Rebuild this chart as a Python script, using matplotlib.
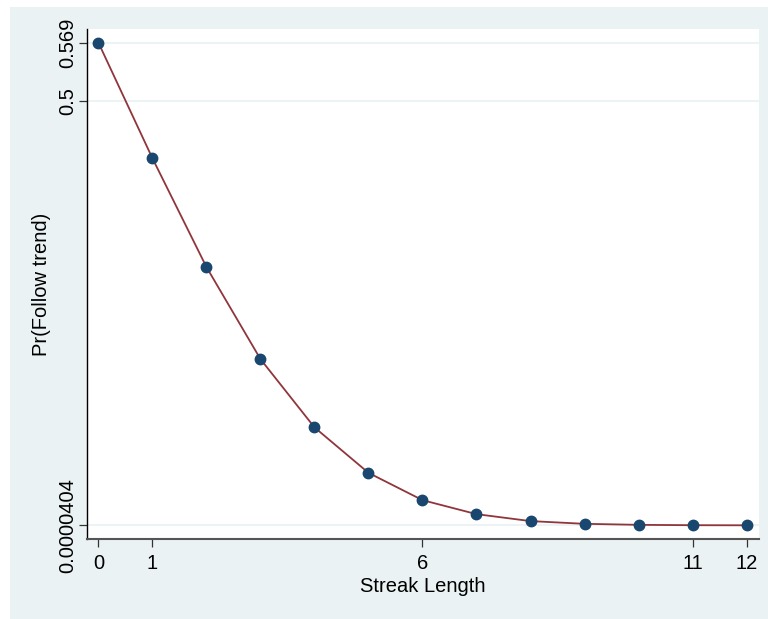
import matplotlib.pyplot as plt
from matplotlib.patches import Rectangle

# Probability of following the trend by streak length
streak = [0, 1, 2, 3, 4, 5, 6, 7, 8, 9, 10, 11, 12]
p_follow = [0.569, 0.4327, 0.3045, 0.196, 0.1155, 0.0619, 0.0297,
            0.0132, 0.0050, 0.0018, 0.0006, 0.00015, 0.0000404]

y_ticks = [0.0000404, 0.5, 0.569]
y_ticklabels = ["0.0000404", "0.5", "0.569"]
x_ticks = [0, 1, 6, 11, 12]

plt.rcParams['font.family'] = ['Liberation Sans', 'DejaVu Sans']

bg = '#eaf2f3'
fig = plt.figure(figsize=(7.68, 6.19), dpi=100, facecolor='white')
fig.add_artist(Rectangle((10 / 768, 0), 1, 1 - 7 / 619, transform=fig.transFigure,
                         facecolor=bg, edgecolor='none', zorder=-10))

ax = fig.add_axes([86.5 / 768, 1 - 539 / 619, (759 - 86.5) / 768, (539 - 29) / 619])
ax.set_facecolor('white')

ax.plot(streak, p_follow, color='#90353b', lw=1.3, zorder=3)
ax.plot(streak, p_follow, 'o', color='#1a476f', ms=7.5, zorder=4)

ax.set_xlim(-0.22, 12.23)
ax.set_ylim(-0.0161, 0.585)

ax.set_yticks(y_ticks)
ax.set_yticklabels(y_ticklabels, rotation=90, va='center')
ax.set_xticks(x_ticks)
for y in y_ticks:
    ax.axhline(y, color=bg, lw=1.3, zorder=1)

ax.tick_params(axis='both', labelsize=14.5, length=6, width=0.9, colors='#333333',
               labelcolor='black')
ax.tick_params(axis='y', pad=0.5)
ax.tick_params(axis='x', pad=5)

for side in ['top', 'right']:
    ax.spines[side].set_visible(False)
ax.spines['left'].set_color('black')
ax.spines['left'].set_linewidth(1.0)
ax.spines['bottom'].set_color('#555555')
ax.spines['bottom'].set_linewidth(1.5)

ax.set_xlabel("Streak Length", fontsize=14.5, labelpad=3)
ax.set_ylabel("Pr(Follow trend)", fontsize=14.5, labelpad=5.5)

fig.savefig('out.png', dpi=100, facecolor=fig.get_facecolor())
